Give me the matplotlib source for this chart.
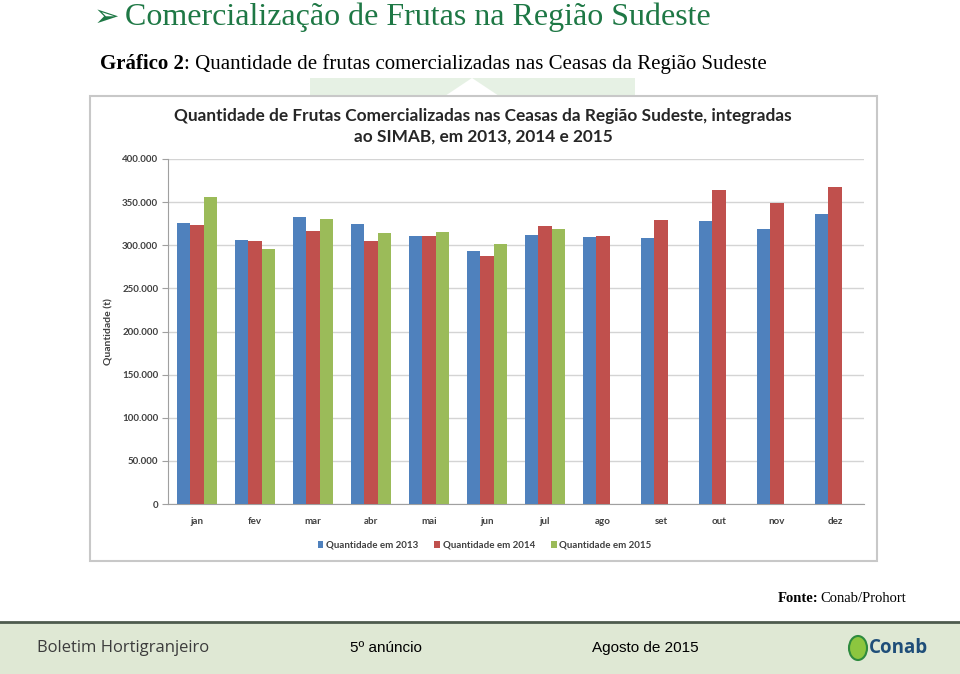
import matplotlib
matplotlib.use("Agg")
import matplotlib.pyplot as plt
from matplotlib.patches import Rectangle, Polygon, Ellipse
import numpy as np

W, H = 960, 674

months = ["jan", "fev", "mar", "abr", "mai", "jun", "jul", "ago", "set", "out", "nov", "dez"]
q2013 = [326000, 306000, 333000, 325000, 311000, 293000, 312000, 310000, 308000, 328000, 319000, 336000]
q2014 = [324000, 304500, 316500, 305000, 311000, 287000, 322700, 311000, 329000, 363500, 348500, 367000]
q2015 = [356000, 296000, 331000, 314500, 315000, 302000, 318500]
series_labels = ["Quantidade em 2013", "Quantidade em 2014", "Quantidade em 2015"]
yticks = [0, 50000, 100000, 150000, 200000, 250000, 300000, 350000, 400000]

colors = ["#4f81bd", "#c0504d", "#9bbb59"]

fig = plt.figure(figsize=(W / 100, H / 100), dpi=100)
fig.patch.set_facecolor("white")

def fx(x):
    return x / W

def fy(y):
    return 1 - y / H

# header
fig.text(fx(94), fy(17), "➢", fontsize=22, color="#1e7845", family=["DejaVu Sans"], va="center", ha="left")
fig.text(fx(125), fy(17), "Comercialização de Frutas na Região Sudeste", fontsize=23,
         color="#1e7845", family=["Liberation Serif", "DejaVu Sans"], va="center", ha="left")
tb = fig.text(fx(100), fy(64), "Gráfico 2", fontsize=15, fontweight="bold", color="black",
              family=["Liberation Serif"], va="center", ha="left")
renderer = fig.canvas.get_renderer()
bb = tb.get_window_extent(renderer=renderer)
fig.text(bb.x1 / W + 0.5 / W, fy(64), ": Quantidade de frutas comercializadas nas Ceasas da Região Sudeste",
         fontsize=15, color="black", family=["Liberation Serif"], va="center", ha="left")

# watermark behind chart
fig.patches.append(Rectangle((fx(310), fy(96)), fx(325), 18 / H, transform=fig.transFigure,
                             facecolor="#e6f1e4", edgecolor="none", zorder=0))
fig.patches.append(Polygon([[fx(445), fy(96)], [fx(472), fy(78)], [fx(499), fy(96)]],
                           closed=True, transform=fig.transFigure, facecolor="white",
                           edgecolor="none", zorder=0.5))

# chart frame
fig.patches.append(Rectangle((fx(90), fy(561)), fx(787), 465 / H, transform=fig.transFigure,
                             facecolor="white", edgecolor="#c8c8c8", linewidth=1.5, zorder=1))

fig.text(fx(483), fy(116), "Quantidade de Frutas Comercializadas nas Ceasas da Região Sudeste, integradas",
         fontsize=12.4, fontweight="bold", color="#262626", family=["Lato"], ha="center", va="center", zorder=3)
fig.text(fx(483), fy(137), "ao SIMAB, em 2013, 2014 e 2015",
         fontsize=12.4, fontweight="bold", color="#262626", family=["Lato"], ha="center", va="center", zorder=3)

ax = fig.add_axes([fx(168), fy(504), (864 - 168) / W, (504 - 159) / H], zorder=2)
ax.set_facecolor("none")
x = np.arange(len(months))
bw = 0.225
ax.bar(x - bw, q2013, bw, color=colors[0], label=series_labels[0], zorder=3)
ax.bar(x, q2014, bw, color=colors[1], label=series_labels[1], zorder=3)
ax.bar(np.arange(len(q2015)) + bw, q2015, bw, color=colors[2], label=series_labels[2], zorder=3)

ax.set_ylim(0, 400000)
ax.set_xlim(-0.5, len(months) - 0.5)
ax.set_yticks(yticks)
ax.set_yticklabels([f"{v:,}".replace(",", ".") for v in yticks], fontsize=7, fontweight="bold",
                   color="#404040", family="Lato")
ax.set_xticks(x)
ax.set_xticklabels(months, fontsize=7, fontweight="bold", color="#404040", family="Lato")
ax.tick_params(axis="x", length=0, pad=9)
ax.tick_params(axis="y", length=4, color="#a0a0a0", pad=3)
ax.grid(axis="y", color="#d4d4d4", linewidth=1, zorder=0)
for s in ["top", "right"]:
    ax.spines[s].set_visible(False)
for s in ["left", "bottom"]:
    ax.spines[s].set_color("#a0a0a0")
ax.set_ylabel("Quantidade (t)", fontsize=7.5, fontweight="bold", color="#404040", family="Lato", labelpad=6)

leg = ax.legend(loc="center", bbox_to_anchor=(0.455, -0.12), ncol=3, frameon=False,
                handlelength=0.6, handleheight=0.6, handletextpad=0.3, columnspacing=1.6,
                prop={"family": "Lato", "weight": "bold", "size": 7})
for t in leg.get_texts():
    t.set_color("#404040")

# source
fig.text(fx(906), fy(599), "Conab/Prohort", fontsize=10.5, family=["Liberation Serif"],
         ha="right", va="center")
fig.text(fx(818), fy(599), "Fonte:", fontsize=10.5, fontweight="bold", family=["Liberation Serif"],
         ha="right", va="center")

# footer
fig.patches.append(Rectangle((0, 0), 1, (674 - 623) / H, transform=fig.transFigure,
                             facecolor="#dfe8d4", edgecolor="none", zorder=1))
fig.add_artist(plt.Line2D([0, 1], [fy(622), fy(622)], transform=fig.transFigure,
                          color="#4e5b4e", linewidth=2, zorder=2))
fig.text(fx(37), fy(648), "Boletim Hortigranjeiro", fontsize=12, color="#3c3c3c",
         family=["Open Sans"], ha="left", va="center")
fig.text(fx(350), fy(648), "5º anúncio", fontsize=11, color="black", family=["Liberation Sans"],
         ha="left", va="center")
fig.text(fx(592), fy(648), "Agosto de 2015", fontsize=11, color="black", family=["Liberation Sans"],
         ha="left", va="center")
# logo
fig.patches.append(Ellipse((fx(858), fy(648)), 18 / W, 24 / H, transform=fig.transFigure,
                           facecolor="#8cc63f", edgecolor="#2e8b3e", linewidth=1.5, zorder=3))
fig.text(fx(869), fy(648), "Conab", fontsize=13.5, fontweight="bold", color="#1f4e79",
         family=["Open Sans"], ha="left", va="center")

fig.savefig("out.png", dpi=100)
